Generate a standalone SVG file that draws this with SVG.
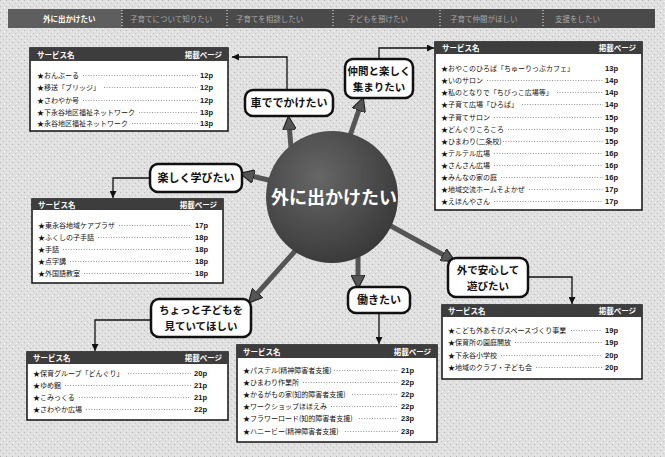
<svg xmlns="http://www.w3.org/2000/svg" width="665" height="457" viewBox="0 0 665 457">
<defs>
<style>
.jp{font-family:"Noto Sans CJK JP","Noto Sans CJK SC",sans-serif}
.tb{fill:#fff;stroke:#111;stroke-width:1.5}
.th{fill:#3d3d3d}
.tht{font-family:"Noto Sans CJK JP",sans-serif;font-size:7.5px;font-weight:bold;fill:#fff}
.row{font-family:"Noto Sans CJK JP",sans-serif;font-size:7px;fill:#111}
.pg{font-family:"Liberation Sans",sans-serif;font-size:7.5px;font-weight:bold;fill:#111;text-anchor:end}
.ld{stroke:#777;stroke-width:0.8;stroke-dasharray:1 1.6}
.bub{fill:#fff;stroke:#111;stroke-width:2.5}
.bt{font-family:"Noto Sans CJK JP",sans-serif;font-size:11px;font-weight:bold;fill:#111;text-anchor:middle}
.bt2{font-family:"Noto Sans CJK JP",sans-serif;font-size:10.5px;font-weight:bold;fill:#111;text-anchor:middle}
.conn{fill:none;stroke:#111;stroke-width:1.3;marker-end:url(#ah)}
.thick{fill:none;stroke:#555;stroke-width:5;marker-end:url(#tah)}
.tab{font-family:"Noto Sans CJK JP",sans-serif;font-size:7.5px;fill:#a9a9a9}
.sep{stroke:#eee;stroke-width:1;stroke-dasharray:1 2}
</style>
<pattern id="ht" width="6" height="6" patternUnits="userSpaceOnUse">
<rect width="6" height="6" fill="#e0e0e0"/>
<rect x="0" y="0" width="1" height="1" fill="#b5b5b5"/>
<rect x="3" y="3" width="1" height="1" fill="#c2c2c2"/>
<rect x="4" y="1" width="1" height="1" fill="#f4f4f4"/>
<rect x="1" y="4" width="1" height="1" fill="#f0f0f0"/>
</pattern>
<radialGradient id="cg" cx="0.4" cy="0.35" r="0.7">
<stop offset="0" stop-color="#666"/>
<stop offset="1" stop-color="#383838"/>
</radialGradient>
<marker id="ah" viewBox="0 0 10 10" markerWidth="7" markerHeight="7" markerUnits="userSpaceOnUse" refX="10" refY="5" orient="auto">
<path d="M0,0 L10,5 L0,10 z" fill="#111"/>
</marker>
<marker id="tah" viewBox="0 0 10 10" markerWidth="14" markerHeight="14" markerUnits="userSpaceOnUse" refX="5" refY="5" orient="auto">
<path d="M0,0 L10,5 L0,10 z" fill="#555" stroke="#222" stroke-width="0.8"/>
</marker>
</defs>

<rect width="665" height="457" fill="url(#ht)"/>

<g id="topbar">
<rect x="8" y="9" width="647" height="19" fill="#4a4a4a"/>
<rect x="8" y="9" width="114" height="19" fill="#5e5e5e"/>
<line class="sep" x1="122" y1="10" x2="122" y2="27"/>
<line class="sep" x1="227" y1="10" x2="227" y2="27"/>
<line class="sep" x1="333" y1="10" x2="333" y2="27"/>
<line class="sep" x1="440" y1="10" x2="440" y2="27"/>
<line class="sep" x1="543" y1="10" x2="543" y2="27"/>
<text class="jp" x="43" y="21.5" font-size="7.5" font-weight="bold" fill="#fff">外に出かけたい</text>
<text class="tab" x="130" y="21.5">子育てについて知りたい</text>
<text class="tab" x="236" y="21.5">子育てを相談したい</text>
<text class="tab" x="348" y="21.5">子どもを預けたい</text>
<text class="tab" x="450" y="21.5">子育て仲間がほしい</text>
<text class="tab" x="555" y="21.5">支援をしたい</text>
</g>

<g id="connectors">
<path class="thick" d="M292,160 L289,123"/>
<path class="thick" d="M345,150 L361,104"/>
<path class="thick" d="M290,185 L247,175"/>
<path class="thick" d="M380,220 L449,258"/>
<path class="thick" d="M358,245 L358,282"/>
<path class="thick" d="M305,240 L253,298"/>
<path class="conn" d="M287,90 V57 H232"/>
<path class="conn" d="M379,59 V48 H434"/>
<path class="conn" d="M150,178 H113 V198"/>
<path class="conn" d="M151,320 H95 V351"/>
<path class="conn" d="M379,313 V344" stroke-width="1"/>
<path class="conn" d="M528,277 H572 V304"/>
</g>

<g id="center">
<circle cx="332" cy="197" r="66" fill="url(#cg)"/>
<text class="jp" x="334" y="204" font-size="18" font-weight="bold" fill="#fff" text-anchor="middle">外に出かけたい</text>
</g>

<g id="bubble-car"><rect class="bub" x="245" y="90" width="88" height="26" rx="8"/><text class="bt" x="289" y="107">車ででかけたい</text></g>
<g id="bubble-nakama"><rect class="bub" x="345" y="59" width="68" height="39" rx="8"/><text class="bt2" x="379" y="75">仲間と楽しく</text><text class="bt2" x="379" y="91">集まりたい</text></g>
<g id="bubble-manabi"><rect class="bub" x="150" y="164" width="92" height="28" rx="8"/><text class="bt" x="196" y="182">楽しく学びたい</text></g>
<g id="bubble-kodomo"><rect class="bub" x="151" y="299" width="100" height="38" rx="8"/><text class="bt2" x="201" y="314">ちょっと子どもを</text><text class="bt2" x="201" y="330">見ていてほしい</text></g>
<g id="bubble-hataraki"><rect class="bub" x="348" y="287" width="62" height="26" rx="8"/><text class="bt" x="379" y="304">働きたい</text></g>
<g id="bubble-soto"><rect class="bub" x="448" y="258" width="80" height="39" rx="8"/><text class="bt2" x="488" y="274">外で安心して</text><text class="bt2" x="488" y="290">遊びたい</text></g>

<g id="table-car">
<rect class="tb" x="30" y="48" width="198" height="83"/>
<rect class="th" x="30" y="48" width="198" height="13"/>
<text class="tht" x="37" y="57.5">サービス名</text><text class="tht" x="222" y="57.5" text-anchor="end">掲載ページ</text>
<text class="row" x="37" y="77.5">★おんぶーる</text><line class="ld" x1="83" y1="75.5" x2="198" y2="75.5"/><text class="pg" x="213" y="78">12p</text>
<text class="row" x="37" y="89.5">★移送「ブリッジ」</text><line class="ld" x1="104" y1="87.5" x2="198" y2="87.5"/><text class="pg" x="213" y="90">12p</text>
<text class="row" x="37" y="102.5">★さわやか号</text><line class="ld" x1="83" y1="100.5" x2="198" y2="100.5"/><text class="pg" x="213" y="103">12p</text>
<text class="row" x="37" y="114.5">★下永谷地区福祉ネットワーク</text><line class="ld" x1="139" y1="112.5" x2="198" y2="112.5"/><text class="pg" x="213" y="115">13p</text>
<text class="row" x="37" y="125.5">★永谷地区福祉ネットワーク</text><line class="ld" x1="132" y1="123.5" x2="198" y2="123.5"/><text class="pg" x="213" y="126">13p</text>
</g>

<g id="table-nakama">
<rect class="tb" x="435" y="42" width="207" height="168"/>
<rect class="th" x="435" y="42" width="207" height="12"/>
<text class="tht" x="442" y="51">サービス名</text><text class="tht" x="636" y="51" text-anchor="end">掲載ページ</text>
<text class="row" x="441" y="70.5">★おやこのひろば「ちゅーりっぷカフェ」</text><text class="pg" x="618" y="71">13p</text>
<text class="row" x="441" y="82.5">★いのサロン</text><line class="ld" x1="487" y1="80.5" x2="603" y2="80.5"/><text class="pg" x="618" y="83">14p</text>
<text class="row" x="441" y="94.5">★私のとなりで「ちびっこ広場等」</text><line class="ld" x1="557" y1="92.5" x2="603" y2="92.5"/><text class="pg" x="618" y="95">14p</text>
<text class="row" x="441" y="106.5">★子育て広場「ひろば」</text><line class="ld" x1="522" y1="104.5" x2="603" y2="104.5"/><text class="pg" x="618" y="107">14p</text>
<text class="row" x="441" y="119.5">★子育てサロン</text><line class="ld" x1="494" y1="117.5" x2="603" y2="117.5"/><text class="pg" x="618" y="120">15p</text>
<text class="row" x="441" y="131.5">★どんぐりころころ</text><line class="ld" x1="508" y1="129.5" x2="603" y2="129.5"/><text class="pg" x="618" y="132">15p</text>
<text class="row" x="441" y="143.5">★ひまわり(二条校)</text><line class="ld" x1="503" y1="141.5" x2="603" y2="141.5"/><text class="pg" x="618" y="144">15p</text>
<text class="row" x="441" y="155.5">★テルテル広場</text><line class="ld" x1="494" y1="153.5" x2="603" y2="153.5"/><text class="pg" x="618" y="156">16p</text>
<text class="row" x="441" y="167.5">★さんさん広場</text><line class="ld" x1="494" y1="165.5" x2="603" y2="165.5"/><text class="pg" x="618" y="168">16p</text>
<text class="row" x="441" y="179.5">★みんなの家の庭</text><line class="ld" x1="501" y1="177.5" x2="603" y2="177.5"/><text class="pg" x="618" y="180">16p</text>
<text class="row" x="441" y="191.5">★地域交流ホームそよかぜ</text><line class="ld" x1="529" y1="189.5" x2="603" y2="189.5"/><text class="pg" x="618" y="192">17p</text>
<text class="row" x="441" y="203.5">★えほんやさん</text><line class="ld" x1="494" y1="201.5" x2="603" y2="201.5"/><text class="pg" x="618" y="204">17p</text>
</g>

<g id="table-manabi">
<rect class="tb" x="32" y="199" width="191" height="84"/>
<rect class="th" x="32" y="199" width="191" height="11"/>
<text class="tht" x="38" y="207.5">サービス名</text><text class="tht" x="217" y="207.5" text-anchor="end">掲載ページ</text>
<text class="row" x="38" y="227.5">★東永谷地域ケアプラザ</text><line class="ld" x1="119" y1="225.5" x2="192" y2="225.5"/><text class="pg" x="208" y="228">17p</text>
<text class="row" x="38" y="239.5">★ふくしの子手話</text><line class="ld" x1="98" y1="237.5" x2="192" y2="237.5"/><text class="pg" x="208" y="240">18p</text>
<text class="row" x="38" y="251.5">★手話</text><line class="ld" x1="63" y1="249.5" x2="192" y2="249.5"/><text class="pg" x="208" y="252">18p</text>
<text class="row" x="38" y="263.5">★点字講</text><line class="ld" x1="70" y1="261.5" x2="192" y2="261.5"/><text class="pg" x="208" y="264">18p</text>
<text class="row" x="38" y="275.5">★外国語教室</text><line class="ld" x1="84" y1="273.5" x2="192" y2="273.5"/><text class="pg" x="208" y="276">18p</text>
</g>

<g id="table-kodomo">
<rect class="tb" x="27" y="352" width="201" height="68"/>
<rect class="th" x="27" y="352" width="201" height="12"/>
<text class="tht" x="33" y="361">サービス名</text><text class="tht" x="222" y="361" text-anchor="end">掲載ページ</text>
<text class="row" x="33" y="375.5">★保育グループ「どんぐり」</text><line class="ld" x1="128" y1="373.5" x2="191" y2="373.5"/><text class="pg" x="207" y="376">20p</text>
<text class="row" x="33" y="387.5">★ゆめ館</text><line class="ld" x1="65" y1="385.5" x2="191" y2="385.5"/><text class="pg" x="207" y="388">21p</text>
<text class="row" x="33" y="399.5">★こみっくる</text><line class="ld" x1="79" y1="397.5" x2="191" y2="397.5"/><text class="pg" x="207" y="400">21p</text>
<text class="row" x="33" y="411.5">★さわやか広場</text><line class="ld" x1="86" y1="409.5" x2="191" y2="409.5"/><text class="pg" x="207" y="412">22p</text>
</g>

<g id="table-hataraki">
<rect class="tb" x="237" y="345" width="200" height="97"/>
<rect class="th" x="237" y="345" width="200" height="13"/>
<text class="tht" x="243" y="354.5">サービス名</text><text class="tht" x="431" y="354.5" text-anchor="end">掲載ページ</text>
<text class="row" x="243" y="372.5">★パステル(精神障害者支援)</text><line class="ld" x1="334" y1="370.5" x2="398" y2="370.5"/><text class="pg" x="414" y="373">21p</text>
<text class="row" x="243" y="384.5">★ひまわり作業所</text><line class="ld" x1="303" y1="382.5" x2="398" y2="382.5"/><text class="pg" x="414" y="385">22p</text>
<text class="row" x="243" y="396.5">★かるがもの家(知的障害者支援)</text><line class="ld" x1="352" y1="394.5" x2="398" y2="394.5"/><text class="pg" x="414" y="397">22p</text>
<text class="row" x="243" y="408.5">★ワークショップほほえみ</text><line class="ld" x1="331" y1="406.5" x2="398" y2="406.5"/><text class="pg" x="414" y="409">22p</text>
<text class="row" x="243" y="420.5">★フラワーロード(知的障害者支援)</text><line class="ld" x1="359" y1="418.5" x2="398" y2="418.5"/><text class="pg" x="414" y="421">23p</text>
<text class="row" x="243" y="433.5">★ハニービー(精神障害者支援)</text><line class="ld" x1="345" y1="431.5" x2="398" y2="431.5"/><text class="pg" x="414" y="434">23p</text>
</g>

<g id="table-soto">
<rect class="tb" x="442" y="305" width="200" height="74"/>
<rect class="th" x="442" y="305" width="200" height="12"/>
<text class="tht" x="448" y="314">サービス名</text><text class="tht" x="636" y="314" text-anchor="end">掲載ページ</text>
<text class="row" x="448" y="332.5">★こども外あそびスペースづくり事業</text><line class="ld" x1="571" y1="330.5" x2="602" y2="330.5"/><text class="pg" x="618" y="333">19p</text>
<text class="row" x="448" y="344.5">★保育所の園庭開放</text><line class="ld" x1="515" y1="342.5" x2="602" y2="342.5"/><text class="pg" x="618" y="345">19p</text>
<text class="row" x="448" y="357.5">★下永谷小学校</text><line class="ld" x1="501" y1="355.5" x2="602" y2="355.5"/><text class="pg" x="618" y="358">20p</text>
<text class="row" x="448" y="369.5">★地域のクラブ・子ども会</text><line class="ld" x1="536" y1="367.5" x2="602" y2="367.5"/><text class="pg" x="618" y="370">20p</text>
</g>
</svg>
